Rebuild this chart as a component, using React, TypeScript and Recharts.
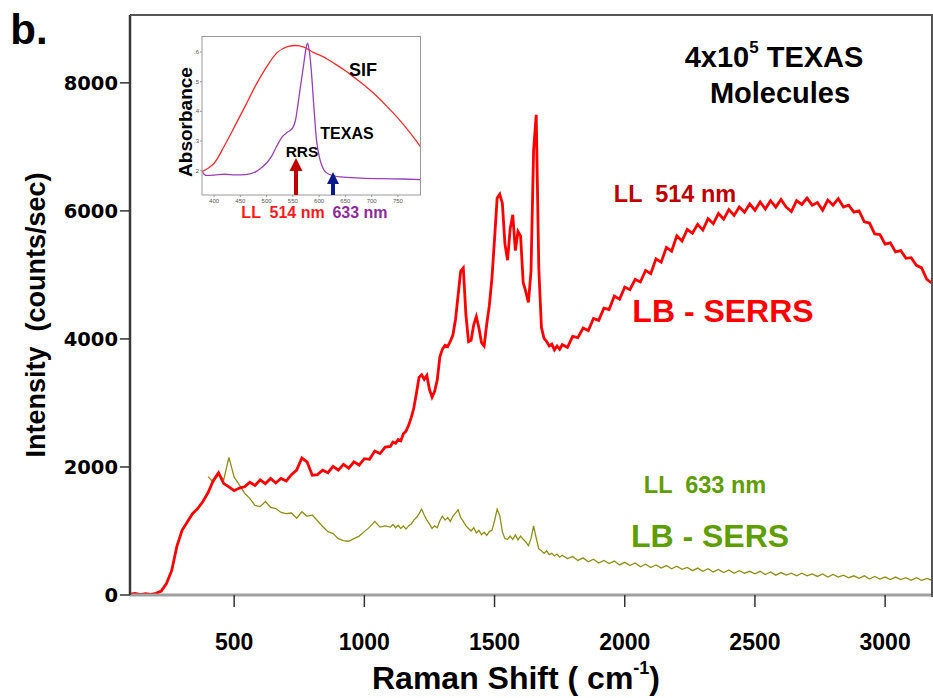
import { ComposedChart, Line, LineChart, XAxis, YAxis } from 'recharts';

// Raman shift grid (cm-1), shared by both spectra
const ramanShift = [
  100, 120, 140, 160, 180, 200, 220, 240, 260, 280, 300, 320, 340, 360, 380, 400, 420, 440, 460, 480,
  500, 520, 540, 560, 580, 600, 620, 640, 660, 680, 700, 720, 740, 760, 780, 800, 820, 840, 860, 880,
  900, 920, 940, 960, 980, 1000, 1020, 1040, 1060, 1080, 1100,
  1110, 1120, 1130, 1140, 1150, 1160, 1170, 1180, 1190, 1200, 1210, 1220, 1230, 1240, 1250, 1260, 1270, 1280, 1290, 1300,
  1310, 1320, 1330, 1340, 1350, 1360, 1370, 1380, 1390, 1400, 1410, 1420, 1430, 1440, 1450, 1460, 1470, 1480, 1490, 1500,
  1510, 1520, 1530, 1540, 1550, 1560, 1570, 1580, 1590, 1600, 1610, 1620, 1630, 1640, 1650, 1660, 1670, 1680, 1690, 1700,
  1710, 1720, 1730, 1740, 1750, 1760,
  1780, 1800, 1820, 1840, 1860, 1880, 1900, 1920, 1940, 1960, 1980, 2000, 2020, 2040, 2060, 2080, 2100, 2120, 2140, 2160,
  2180, 2200, 2220, 2240, 2260, 2280, 2300, 2320, 2340, 2360, 2380, 2400, 2420, 2440, 2460, 2480, 2500, 2520, 2540, 2560,
  2580, 2600, 2620, 2640, 2660, 2680, 2700, 2720, 2740, 2760, 2780, 2800, 2820, 2840, 2860, 2880, 2900, 2920, 2940, 2960,
  2980, 3000, 3020, 3040, 3060, 3080, 3100, 3120, 3140, 3160, 3180,
];

// LL 514 nm, LB-SERRS (counts/sec)
const serrs514 = [
  15, 25, 5, 20, 10, 25, 60, 180, 380, 760, 1010, 1140, 1270, 1350, 1460, 1600, 1790, 1910, 1740, 1690,
  1630, 1670, 1690, 1760, 1710, 1800, 1740, 1820, 1750, 1820, 1780, 1880, 1950, 2140, 2080, 1870, 1880, 1950, 1910, 2010,
  1950, 2040, 1980, 2080, 2030, 2130, 2120, 2250, 2210, 2310, 2320,
  2390, 2370, 2430, 2410, 2520, 2560, 2650, 2770, 2920, 3150, 3400, 3440, 3370, 3430, 3210, 3090, 3180, 3360, 3720, 3840,
  3900, 3880, 3960, 4060, 4300, 4680, 5060, 5110, 4380, 3960, 3980, 4220, 4350, 4170, 3940, 3890, 4230, 4520, 4950, 5560,
  6200, 6260, 6120, 5480, 5230, 5720, 5940, 5380, 5680, 5610, 4880, 4740, 4570, 5050, 6950, 7500, 5100, 4180, 4010, 3960,
  3890, 3920, 3830, 3890, 3840, 3910,
  3870, 4040, 4020, 4170, 4130, 4320, 4290, 4480, 4460, 4670, 4620, 4810, 4770, 4930, 4890, 5070, 5020, 5250, 5200, 5430,
  5370, 5610, 5530, 5710, 5650, 5790, 5700, 5880, 5800, 5960, 5870, 6020, 5930, 6060, 5980, 6110, 6010, 6140, 6030, 6160,
  6060, 6180, 6060, 5990, 6160, 6100, 6200, 6090, 6130, 6010, 6170, 6090, 6190, 6060, 6090, 5980, 6000, 5830, 5810, 5640,
  5630, 5480, 5500, 5360, 5380, 5260, 5270, 5150, 5110, 4930, 4870,
];

// LL 633 nm, LB-SERS (counts/sec), no data below 400 cm-1
const sers633 = [
  null, null, null, null, null, null, null, null, null, null, null, null, null, null, null, 1850, 1760, 1880, 1800, 2150,
  1840, 1720, 1590, 1510, 1400, 1380, 1460, 1370, 1350, 1290, 1270, 1280, 1200, 1300, 1230, 1250, 1160, 1070, 990, 960,
  880, 850, 840, 880, 920, 990, 1060, 1150, 1060, 1080, 1060,
  1100, 1050, 1090, 1040, 1080, 1030, 1080, 1110, 1170, 1210, 1270, 1340, 1250, 1170, 1110, 1040, 1080, 1050, 1160, 1230,
  1170, 1210, 1150, 1230, 1280, 1330, 1210, 1150, 1080, 1040, 1000, 1050, 970, 1010, 940, 980, 930, 990, 1010, 1160,
  1340, 1240, 990, 880, 870, 920, 870, 940, 860, 920, 870, 830, 770, 880, 1080, 890, 720, 690, 650, 690,
  630, 650, 610, 640, 590, 620,
  570, 600, 540, 580, 520, 560, 500, 540, 490, 530, 470, 510, 460, 500, 440, 480, 430, 470, 420, 460,
  410, 450, 400, 430, 380, 420, 370, 410, 360, 400, 350, 390, 340, 380, 340, 370, 330, 370, 320, 360,
  310, 350, 310, 340, 300, 340, 300, 330, 290, 330, 280, 320, 280, 310, 270, 300, 260, 300, 250, 290,
  250, 280, 240, 280, 240, 270, 230, 270, 230, 260, 230,
];

const shiftTicks = [500, 1000, 1500, 2000, 2500, 3000];
const intensityTicks = [0, 2000, 4000, 6000, 8000];

// inset: absorbance spectra
const sifWavelength = [377, 390, 400, 420, 440, 460, 480, 500, 520, 540, 555, 570, 590, 610, 630, 650, 670, 690, 710, 730, 750, 770, 794];
const sifAbsorbance = [0.197, 0.21, 0.225, 0.285, 0.352, 0.42, 0.49, 0.55, 0.598, 0.618, 0.622, 0.617, 0.598, 0.582, 0.56, 0.537, 0.51, 0.482, 0.451, 0.415, 0.377, 0.335, 0.279];
const texasWavelength = [377, 385, 400, 420, 440, 460, 480, 490, 500, 510, 520, 530, 540, 550, 555, 560, 565, 570, 575, 578, 581, 585, 590, 595, 600, 605, 610, 620, 640, 680, 720, 760, 794];
const texasAbsorbance = [0.197, 0.184, 0.185, 0.188, 0.186, 0.187, 0.197, 0.21, 0.226, 0.25, 0.285, 0.315, 0.33, 0.345, 0.37, 0.427, 0.49, 0.55, 0.611, 0.63, 0.608, 0.54, 0.416, 0.304, 0.25, 0.218, 0.2, 0.187, 0.179, 0.175, 0.173, 0.172, 0.17];
const insetWaveTicks = [400, 450, 500, 550, 600, 650, 700, 750];
const insetAbsTicks = [0.2, 0.3, 0.4, 0.5, 0.6];

const FONT = "'Liberation Sans', Arial, sans-serif";

const chartData = ramanShift.map((shift, i) => ({ shift, serrs: serrs514[i], sers: sers633[i] }));
const sifData = sifWavelength.map((wl, i) => ({ wl, abs: sifAbsorbance[i] }));
const texasData = texasWavelength.map((wl, i) => ({ wl, abs: texasAbsorbance[i] }));

function Txt({ x, y, size, color = '#000', children, rotate }: { x: number; y: number; size: number; color?: string; children: React.ReactNode; rotate?: number }) {
  return (
    <div
      style={{
        position: 'absolute',
        left: x,
        top: y,
        transform: `translate(-50%, -50%)${rotate ? ` rotate(${rotate}deg)` : ''}`,
        fontFamily: FONT,
        fontWeight: 700,
        fontSize: size,
        color,
        whiteSpace: 'pre',
        lineHeight: 1,
      }}
    >
      {children}
    </div>
  );
}

export default function App() {
  return (
    <div style={{ position: 'absolute', left: 0, top: 0, width: 933, height: 698, background: '#fff', overflow: 'hidden' }}>
      <ComposedChart width={933} height={698} data={chartData} margin={{ top: 15, right: 1, bottom: 0, left: 0 }}>
        <XAxis
          type="number"
          dataKey="shift"
          domain={[100, 3180]}
          ticks={shiftTicks}
          allowDataOverflow
          height={103}
          axisLine={{ stroke: '#a0a0a0', strokeWidth: 3 }}
          tickLine={{ stroke: '#333', strokeWidth: 1.5 }}
          tickSize={12}
          tickMargin={27}
          tick={{ fill: '#000', fontSize: 23, fontWeight: 700, fontFamily: FONT }}
        />
        <YAxis
          type="number"
          domain={[0, 9060]}
          ticks={intensityTicks}
          allowDataOverflow
          width={130}
          axisLine={{ stroke: '#3a3a3a', strokeWidth: 2.5 }}
          tickLine={{ stroke: '#333', strokeWidth: 1.5 }}
          tickSize={10}
          tickMargin={2}
          tick={{ fill: '#000', fontSize: 19.5, fontWeight: 700, fontFamily: "'DejaVu Sans', sans-serif" }}
        />
        <Line type="linear" dataKey="sers" stroke="#8f8f14" strokeWidth={1.3} dot={false} isAnimationActive={false} />
        <Line type="linear" dataKey="serrs" stroke="#ff0000" strokeWidth={2.8} dot={false} isAnimationActive={false} />
      </ComposedChart>

      {/* plot frame, top and right */}
      <div style={{ position: 'absolute', left: 130, top: 14, width: 801, height: 581, borderTop: '2px solid #555', borderRight: '2px solid #555', pointerEvents: 'none' }} />

      <Txt x={29} y={30} size={42}>b.</Txt>
      <Txt x={36} y={315} size={27} rotate={-90}>Intensity  (counts/sec)</Txt>
      <Txt x={516} y={678} size={32}>
        Raman Shift ( cm<sup style={{ fontSize: 18, verticalAlign: 'top', position: 'relative', top: -3 }}>-1</sup>)
      </Txt>

      <Txt x={774} y={57} size={29}>
        4x10<sup style={{ fontSize: 17, verticalAlign: 'top', position: 'relative', top: -4 }}>5</sup> TEXAS
      </Txt>
      <Txt x={780} y={93} size={29}>Molecules</Txt>
      <Txt x={675} y={195} size={23.5} color="#c00000">LL  514 nm</Txt>
      <Txt x={723} y={311} size={32} color="#ff0000">LB - SERRS</Txt>
      <Txt x={705} y={486} size={23.5} color="#5f9e00">LL  633 nm</Txt>
      <Txt x={710} y={536} size={32} color="#5f9e00">LB - SERS</Txt>

      {/* inset absorbance chart */}
      <div style={{ position: 'absolute', left: 181, top: 36 }}>
        <LineChart width={240} height={175} margin={{ top: 0, right: 0, bottom: 0, left: 0 }}>
          <XAxis
            type="number"
            dataKey="wl"
            domain={[377, 794]}
            ticks={insetWaveTicks}
            allowDataOverflow
            height={16}
            axisLine={{ stroke: '#999' }}
            tickLine={{ stroke: '#999' }}
            tickSize={2}
            tickMargin={2}
            tick={{ fill: '#555', fontSize: 6, fontFamily: FONT }}
          />
          <YAxis
            type="number"
            domain={[0.118, 0.654]}
            ticks={insetAbsTicks}
            allowDataOverflow
            width={21}
            axisLine={{ stroke: '#999' }}
            tickLine={{ stroke: '#999' }}
            tickSize={2}
            tickMargin={1}
            tickFormatter={(v: number) => v.toFixed(1).replace('0.', '.')}
            tick={{ fill: '#555', fontSize: 6, fontFamily: FONT }}
          />
          <Line data={sifData} type="monotone" dataKey="abs" stroke="#ff2a2a" strokeWidth={1.3} dot={false} isAnimationActive={false} />
          <Line data={texasData} type="monotone" dataKey="abs" stroke="#9a3fb5" strokeWidth={1.3} dot={false} isAnimationActive={false} />
        </LineChart>
      </div>
      <div style={{ position: 'absolute', left: 202, top: 36, width: 218, height: 158, borderTop: '1px solid #999', borderRight: '1px solid #999', pointerEvents: 'none' }} />

      <svg width={933} height={698} style={{ position: 'absolute', left: 0, top: 0, pointerEvents: 'none' }}>
        <rect x={294} y={170} width={4} height={25} fill="#c00000" />
        <polygon points="289.5,171 302.5,171 296,158" fill="#c00000" />
        <rect x={331} y={183} width={4} height={12} fill="#0a1a8c" />
        <polygon points="327,184 339,184 333,172" fill="#0a1a8c" />
      </svg>

      <Txt x={185} y={122} size={19} rotate={-90}>Absorbance</Txt>
      <Txt x={363} y={70} size={18}>SIF</Txt>
      <Txt x={347} y={134} size={16}>TEXAS</Txt>
      <Txt x={302} y={152} size={15.5}>RRS</Txt>
      <Txt x={283} y={213} size={16} color="#ff1a1a">LL  514 nm</Txt>
      <Txt x={360} y={213} size={16} color="#8e2a9e">633 nm</Txt>
    </div>
  );
}
